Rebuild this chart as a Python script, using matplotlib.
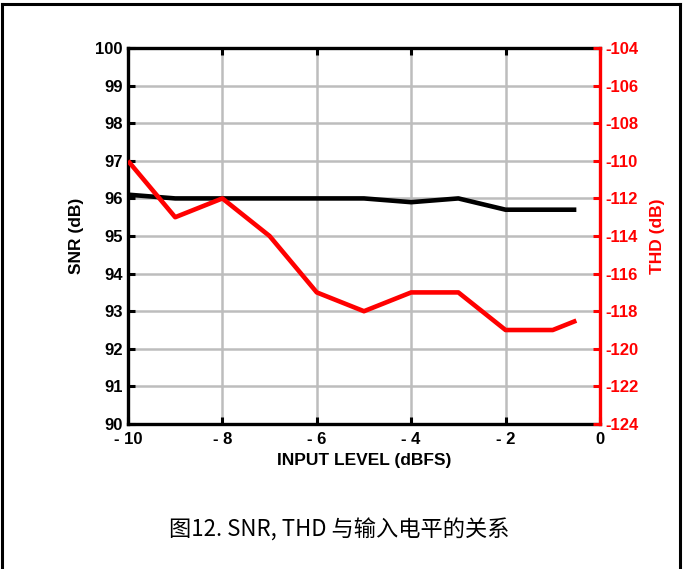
import matplotlib
matplotlib.use("Agg")
import matplotlib.pyplot as plt
from matplotlib.lines import Line2D
from matplotlib import font_manager

# data
input_level = [-10, -9, -8, -7, -6, -5, -4, -3, -2, -1, -0.5]
snr_db = [96.1, 96.0, 96.0, 96.0, 96.0, 96.0, 95.9, 96.0, 95.7, 95.7, 95.7]
thd_db = [-110, -113, -112, -114, -117, -118, -117, -117, -119, -119, -118.5]

x_ticks = [-10, -8, -6, -4, -2, 0]
x_tick_labels = ["- 10", "- 8", "- 6", "- 4", "- 2", "0"]
snr_ticks = list(range(90, 101))
thd_ticks = list(range(-124, -103, 2))

caption = "图12. SNR, THD 与输入电平的关系"

plt.rcParams["axes.unicode_minus"] = False

installed = {f.name for f in font_manager.fontManager.ttflist}
narrow = "Liberation Sans Narrow" if "Liberation Sans Narrow" in installed else "Liberation Sans"

red = "#ff0000"
grid_gray = "#bdbdbd"

fig = plt.figure(figsize=(6.83, 5.69), dpi=100)
ax = fig.add_axes([0.1874, 0.2548, 0.691, 0.6608])
ax2 = ax.twinx()

ax.set_xlim(-10, 0)
ax.set_ylim(90, 100)
ax2.set_ylim(-124, -104)

ax.set_xticks(x_ticks)
ax.set_xticklabels(x_tick_labels)
ax.set_yticks(snr_ticks)
ax2.set_yticks(thd_ticks)

ax.grid(True, color=grid_gray, linewidth=1.8, zorder=0)
ax.set_axisbelow(True)

ax.plot(input_level, snr_db, color="black", linewidth=3.3, solid_capstyle="butt", zorder=3)
ax2.plot(input_level, thd_db, color=red, linewidth=3.3, solid_capstyle="butt", zorder=3)

for side in ["top", "bottom", "left"]:
    ax.spines[side].set_linewidth(2.4)
    ax.spines[side].set_color("black")
ax.spines["right"].set_visible(False)
for side in ["top", "bottom", "left"]:
    ax2.spines[side].set_visible(False)
ax2.spines["right"].set_linewidth(2.4)
ax2.spines["right"].set_color(red)

ax.tick_params(axis="both", direction="in", length=5, width=2.2, color="black",
               top=True, labelsize=12, pad=4)
ax.tick_params(axis="x", pad=6)
ax2.tick_params(axis="y", direction="in", length=5, width=2.2, color=red,
                labelcolor=red, labelsize=12, pad=4)

for lbl in ax.get_xticklabels() + ax.get_yticklabels() + ax2.get_yticklabels():
    lbl.set_fontfamily(narrow)
    lbl.set_fontweight("bold")

ax.set_xlabel("INPUT LEVEL (dBFS)", fontsize=12.5, fontweight="bold", family=narrow, labelpad=4)
ax.set_ylabel("SNR (dB)", fontsize=12.5, fontweight="bold", family=narrow, labelpad=8)
ax2.set_ylabel("THD (dB)", fontsize=12.5, fontweight="bold", family=narrow, color=red, labelpad=8)

fig.text(0.497, 0.0685, caption, ha="center", va="center", fontsize=16,
         family=["Noto Sans CJK SC", "DejaVu Sans"])

# page frame around the figure
frame = dict(color="black", linewidth=2.2, transform=fig.transFigure)
fig.add_artist(Line2D([0.0022, 0.9949], [0.9938, 0.9938], **frame))
fig.add_artist(Line2D([0.0022, 0.0022], [0.0, 0.9938], **frame))
fig.add_artist(Line2D([0.9949, 0.9949], [0.0, 0.9938], **frame))

fig.savefig("out.png", dpi=100)
